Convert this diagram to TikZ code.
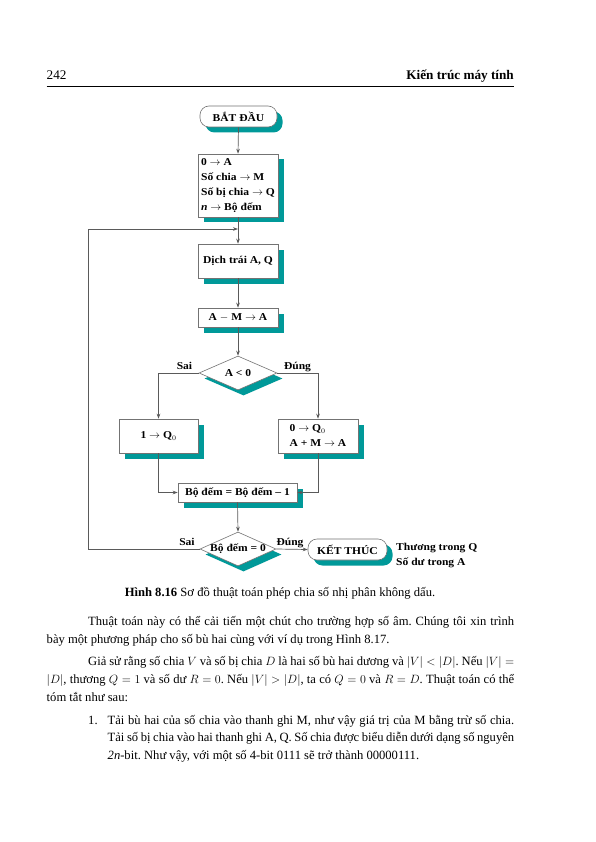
\documentclass[tikz,border=0pt]{standalone}
\usepackage{fontspec}
\setmainfont{Liberation Serif}
\newfontfamily\figfont[FakeStretch=1.1]{Liberation Serif}
\usetikzlibrary{shapes.geometric,shadows,arrows.meta}
\definecolor{tealc}{RGB}{0,153,153}
\definecolor{boxgray}{RGB}{115,115,115}
\definecolor{linegray}{RGB}{90,90,90}
\newcommand{\bodyfont}{\fontsize{12.6}{18}\selectfont\frenchspacing}
\newcommand{\hdrfont}{\fontsize{13.2}{15}\selectfont}
\begin{document}
\begin{tikzpicture}[x=1pt,y=-1pt,
  fb/.style={font=\figfont\bfseries\fontsize{10.5}{15}\selectfont},
  shad/.style={drop shadow={shadow xshift=5.5pt,shadow yshift=-5.5pt,fill=tealc,opacity=1,draw=none}},
  box/.style={fb,shad,draw=boxgray,line width=0.6pt,fill=white,rectangle,inner sep=0pt,minimum width=80pt,align=left},
  term/.style={box,rounded corners=9pt,align=center},
  dia/.style={shad,draw=boxgray,line width=0.6pt,fill=white,diamond,inner sep=0pt},
  arr/.style={draw=linegray,line width=0.7pt,-{Stealth[length=5pt,width=3.6pt]}},
  lab/.style={fb,inner sep=0pt},
  tl/.style={anchor=base west,inner sep=0pt,font=\bodyfont}
]
\useasboundingbox (0,0) rectangle (595,842);
\fill[white] (0,0) rectangle (595,842);

% header
\node[anchor=base west,inner sep=0pt,font=\hdrfont] (pg) at (46.5,80) {242};
\node[anchor=base east,inner sep=0pt,font=\hdrfont\bfseries] (ttl) at (514,80) {Kiến trúc máy tính};
\draw[line width=0.8pt] (pg.base west |- 0,86.5) -- (ttl.base east |- 0,86.5);

% flowchart
\node[term,minimum width=77pt,minimum height=21pt] (start) at (238.5,116.5) {BẮT ĐẦU};
\node[box,minimum height=63pt] (init) at (238,185.5) {0 $\rightarrow$ A\\Số chia $\rightarrow$ M\\Số bị chia $\rightarrow$ Q\\\textit{n} $\rightarrow$ Bộ đếm};
\node[box,minimum height=34pt,align=center] (shift) at (238,261) {Dịch trái A, Q};
\node[box,minimum height=19pt,align=center] (sub) at (238,317.5) {A $-$ M $\rightarrow$ A};
\node[dia,minimum width=78pt,minimum height=34pt] (d1) at (238,373) {};
\node[lab] (d1t) at (d1) {A < 0};
\node[box,minimum width=79pt,minimum height=34pt,align=center] (q1) at (158.5,436) {1 $\rightarrow$ Q$_0$};
\node[box,minimum height=34pt] (q0) at (318,436) {0 $\rightarrow$ Q$_0$\\A + M $\rightarrow$ A};
\node[box,minimum width=119pt,minimum height=19pt,align=center] (cnt) at (237.5,492.5) {Bộ đếm = Bộ đếm – 1};
\node[dia,minimum width=76pt,minimum height=34pt] (d2) at (238,549) {};
\node[lab] (d2t) at (d2) {Bộ đếm = 0};
\node[term,minimum width=79pt,minimum height=21pt] (end) at (347.5,549.5) {KẾT THÚC};
\node[lab,anchor=base west] (res1) at (396,550.5) {Thương trong Q};
\node[lab,anchor=base west] (res2) at (396,565.5) {Số dư trong A};

\node[lab,anchor=base] (sai1) at (184.5,369) {Sai};
\node[lab,anchor=base] (dung1) at (297.5,369) {Đúng};
\node[lab,anchor=base] (sai2) at (187,545) {Sai};
\node[lab,anchor=base] (dung2) at (290,545) {Đúng};

\coordinate (join) at (238,229);
\coordinate (lc) at (88,549);
\draw[arr] (start.south) -- (init.north);
\draw[arr] (init.south) -- (shift.north);
\draw[arr] (shift.south) -- (sub.north);
\draw[arr] (sub.south) -- (d1.north);
\draw[arr] (d1.west) -| (q1.north);
\draw[arr] (d1.east) -| (q0.north);
\draw[arr] (q1.south) |- (cnt.west);
\draw[arr] (q0.south) |- (cnt.east);
\draw[arr] (cnt.south) -- (d2.north);
\draw[arr] (d2.west) -- (lc) |- (join);
\draw[arr] (d2.east) -- (end.west);

% caption and text
\node[anchor=base,inner sep=0pt,font=\bodyfont] (cap) at (280,596) {\textbf{Hình 8.16} Sơ đồ thuật toán phép chia số nhị phân không dấu.};
\node[tl] (p1a) at (88,625) {\hbox to 426pt{Thuật toán này có thể cải tiến một chút cho trường hợp số âm. Chúng tôi xin trình}};
\node[tl] (p1b) at (46.5,643.5) {bày một phương pháp cho số bù hai cùng với ví dụ trong Hình 8.17.};
\node[tl] (p2a) at (88,665) {\hbox to 426pt{Giả sử rằng số chia $V$ và số bị chia $D$ là hai số bù hai dương và $|V| < |D|$. Nếu $|V| =$}};
\node[tl] (p2b) at (46.5,683) {\hbox to 467.5pt{$|D|$, thương $Q = 1$ và số dư $R = 0$. Nếu $|V| > |D|$, ta có $Q = 0$ và $R = D$. Thuật toán có thể}};
\node[tl] (p2c) at (46.5,701) {tóm tắt như sau:};
\node[tl] (i1n) at (88,724) {1.};
\node[tl] (i1a) at (107.5,724) {\hbox to 406.5pt{Tải bù hai của số chia vào thanh ghi M, như vậy giá trị của M bằng trừ số chia.}};
\node[tl] (i1b) at (107.5,741.5) {\hbox to 406.5pt{Tải số bị chia vào hai thanh ghi A, Q. Số chia được biểu diễn dưới dạng số nguyên}};
\node[tl] (i1c) at (107.5,759) {\textit{2n}-bit. Như vậy, với một số 4-bit 0111 sẽ trở thành 00000111.};
\end{tikzpicture}
\end{document}
